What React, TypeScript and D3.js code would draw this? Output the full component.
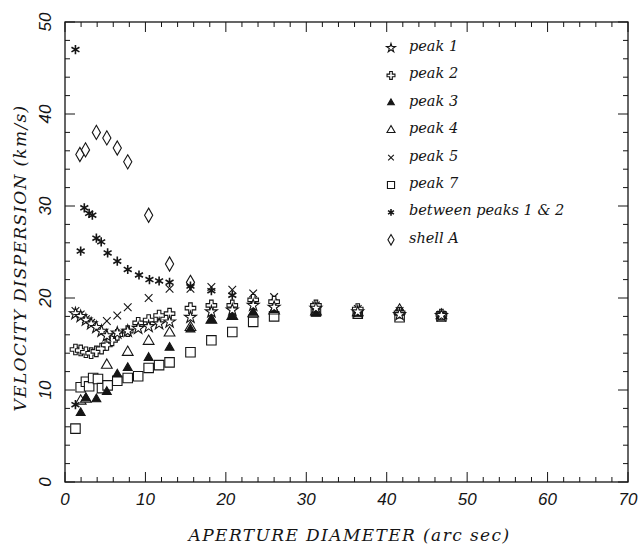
import React from 'react';
import * as d3 from 'd3';

// aperture diameter (arc sec), velocity dispersion (km/s)
const peak1: [number, number][] = [
  [1.3, 18.3], [1.95, 18.0], [2.6, 17.6], [3.25, 17.2], [3.9, 16.8], [4.55, 16.4], [5.2, 15.9],
  [6.5, 16.2], [7.8, 16.4], [9.1, 16.7], [10.4, 16.9], [11.7, 17.2], [13.0, 17.4], [15.6, 17.9],
  [18.2, 18.5], [20.8, 18.7], [23.4, 19.2], [26.0, 19.0], [31.2, 18.9], [36.4, 18.5], [41.6, 18.2], [46.8, 18.1],
];
const peak2: [number, number][] = [
  [1.3, 14.4], [1.95, 14.3], [2.6, 14.1], [3.25, 14.0], [3.9, 14.2], [4.55, 14.5], [5.2, 14.9],
  [5.85, 15.4], [6.5, 16.0], [7.8, 16.4], [9.1, 17.3], [10.4, 17.6], [11.7, 18.1], [13.0, 18.3],
  [15.6, 18.9], [18.2, 19.2], [20.8, 19.2], [23.4, 19.8], [26.0, 19.6], [31.2, 19.2], [36.4, 18.8], [41.6, 18.4], [46.8, 18.2],
];
const peak3: [number, number][] = [
  [1.95, 7.5], [2.6, 9.1], [3.9, 9.0], [5.2, 9.8], [6.5, 11.7], [7.8, 12.4], [10.4, 13.5], [13.0, 14.6],
  [15.6, 16.6], [18.2, 17.6], [20.8, 18.0], [23.4, 18.4], [26.0, 18.7], [31.2, 18.3], [36.4, 18.3], [41.6, 18.4], [46.8, 18.1],
];
const peak4: [number, number][] = [
  [1.95, 8.8], [2.6, 9.0], [5.2, 12.7], [7.8, 14.1], [10.4, 15.3], [13.0, 16.2], [15.6, 16.8],
  [18.2, 17.6], [20.8, 18.0], [23.4, 18.3], [26.0, 18.6], [31.2, 18.5], [36.4, 18.4], [41.6, 18.7], [46.8, 18.1],
];
const peak5: [number, number][] = [
  [1.3, 18.6], [1.95, 18.2], [2.6, 17.7], [3.25, 17.3], [5.2, 17.5], [6.5, 18.1], [7.8, 19.0], [10.4, 20.0],
  [13.0, 21.0], [15.6, 21.0], [18.2, 21.2], [20.8, 20.9], [23.4, 20.5], [26.0, 20.1], [31.2, 19.2], [36.4, 18.8], [41.6, 18.6], [46.8, 18.2],
];
const peak7: [number, number][] = [
  [1.3, 5.8], [1.95, 10.3], [2.6, 10.9], [3.0, 10.4], [3.5, 11.3], [4.1, 11.2], [4.6, 10.2], [5.3, 10.5],
  [6.5, 11.0], [7.8, 11.3], [9.1, 11.5], [10.4, 12.4], [11.7, 12.7], [13.0, 13.0], [15.6, 14.1],
  [18.2, 15.4], [20.8, 16.3], [23.4, 17.4], [26.0, 18.0], [31.2, 18.6], [36.4, 18.3], [41.6, 17.9], [46.8, 18.0],
];
const between12: [number, number][] = [
  [1.3, 47.0], [1.3, 8.4], [1.95, 25.1], [2.4, 29.8], [3.0, 29.2], [3.4, 29.0], [3.9, 26.5], [4.5, 26.1],
  [5.3, 24.9], [6.5, 24.0], [7.8, 23.1], [9.2, 22.5], [10.5, 22.0], [11.7, 21.85], [13.0, 21.7], [15.6, 21.3],
  [18.2, 20.8], [20.8, 20.3], [23.4, 19.6], [26.0, 19.3], [31.2, 19.0], [36.4, 18.6], [41.6, 18.5], [46.8, 18.1],
];
const shellA: [number, number][] = [
  [1.85, 35.6], [2.55, 36.1], [3.9, 38.0], [5.2, 37.4], [6.5, 36.3], [7.8, 34.8], [10.4, 29.0], [13.0, 23.7], [15.6, 21.7],
];

const legendLabels = ['peak 1', 'peak 2', 'peak 3', 'peak 4', 'peak 5', 'peak 7', 'between peaks 1 & 2', 'shell A'];
const xTickLabels = [0, 10, 20, 30, 40, 50, 60, 70];
const yTickLabels = [0, 10, 20, 30, 40, 50];

const W = 641;
const H = 547;
const margin = { top: 22, right: 13, bottom: 65, left: 65 };
const ink = '#151515';

type Kind = 'star' | 'plus' | 'tri' | 'otri' | 'times' | 'square' | 'aster' | 'diamond';

const symbolPath = (kind: Kind, k: number): string => {
  const sym = d3.symbol();
  switch (kind) {
    case 'star': return sym.type(d3.symbolStar).size(44 * k * k)() as string;
    case 'plus': return sym.type(d3.symbolCross).size(62 * k * k)() as string;
    case 'tri': return sym.type(d3.symbolTriangle).size(34 * k * k)() as string;
    case 'otri': return sym.type(d3.symbolTriangle).size(50 * k * k)() as string;
    case 'times': return sym.type(d3.symbolTimes).size(40 * k * k)() as string;
    case 'square': return sym.type(d3.symbolSquare).size(90 * k * k)() as string;
    case 'diamond': return sym.type(d3.symbolDiamond).size(58 * k * k)() as string;
    case 'aster': {
      const p = d3.path();
      const r = 4.6 * k;
      [90, 30, -30].forEach(a => {
        const t = (a * Math.PI) / 180;
        p.moveTo(-r * Math.cos(t), -r * Math.sin(t));
        p.lineTo(r * Math.cos(t), r * Math.sin(t));
      });
      return p.toString();
    }
  }
};

const seriesList: { data: [number, number][]; kind: Kind }[] = [
  { data: peak7, kind: 'square' },
  { data: peak4, kind: 'otri' },
  { data: peak3, kind: 'tri' },
  { data: shellA, kind: 'diamond' },
  { data: between12, kind: 'aster' },
  { data: peak5, kind: 'times' },
  { data: peak2, kind: 'plus' },
  { data: peak1, kind: 'star' },
];
const legendKinds: Kind[] = ['star', 'plus', 'tri', 'otri', 'times', 'square', 'aster', 'diamond'];

const Marker = ({ kind, x, y, k = 1 }: { kind: Kind; x: number; y: number; k?: number }) => {
  const filled = kind === 'tri';
  const open = kind === 'star' || kind === 'plus' || kind === 'otri' || kind === 'square' || kind === 'diamond';
  return (
    <path
      d={symbolPath(kind, k)}
      transform={`translate(${x},${y})`}
      fill={filled ? ink : open ? '#fff' : 'none'}
      stroke={ink}
      strokeWidth={kind === 'aster' ? 1.6 : 1.1}
    />
  );
};

export default function App() {
  const x = d3.scaleLinear().domain([0, 70]).range([margin.left, W - margin.right]);
  const y = d3.scaleLinear().domain([0, 50]).range([H - margin.bottom, margin.top]);
  const [x0, x1] = x.range();
  const [y0, y1] = y.range();

  const xMinor = x.ticks(35);
  const xMajor = x.ticks(7);
  const yMinor = y.ticks(25);
  const yMajor = y.ticks(5);

  const tickFont = { fontFamily: 'Liberation Sans, Arial, sans-serif', fontStyle: 'italic', fontSize: 17 } as const;
  const titleFont = { fontFamily: 'DejaVu Serif, serif', fontStyle: 'italic', fontSize: 17 } as const;

  return (
    <svg width={W} height={H} style={{ position: 'absolute', left: 0, top: 0, background: '#fff' }}>
      <rect x={0} y={0} width={W} height={H} fill="#fff" />
      {/* ticks on all four sides, minor every 2, major every 10 */}
      <g stroke={ink} strokeWidth={1}>
        {xMinor.map(v => {
          const len = xMajor.includes(v) ? 10 : 5;
          return (
            <g key={`xt${v}`}>
              <line x1={x(v)} x2={x(v)} y1={y0} y2={y0 - len} />
              <line x1={x(v)} x2={x(v)} y1={y1} y2={y1 + len} />
            </g>
          );
        })}
        {yMinor.map(v => {
          const len = yMajor.includes(v) ? 10 : 5;
          return (
            <g key={`yt${v}`}>
              <line x1={x0} x2={x0 + len} y1={y(v)} y2={y(v)} />
              <line x1={x1} x2={x1 - len} y1={y(v)} y2={y(v)} />
            </g>
          );
        })}
      </g>
      <rect x={x0} y={y1} width={x1 - x0} height={y0 - y1} fill="none" stroke={ink} strokeWidth={1.3} />

      {xTickLabels.map(v => (
        <text key={`xl${v}`} x={x(v)} y={y0 + 23} textAnchor="middle" fill={ink} {...tickFont}>{v}</text>
      ))}
      {yTickLabels.map(v => (
        <text key={`yl${v}`} x={0} y={0} transform={`translate(51,${y(v)}) rotate(-90)`} textAnchor="middle" fill={ink} {...tickFont}>{v}</text>
      ))}

      <text x={(x0 + x1) / 2 + 3} y={541} textAnchor="middle" fill={ink} letterSpacing={1.4} {...titleFont}>APERTURE DIAMETER (arc sec)</text>
      <text x={0} y={0} transform={`translate(26,${(y0 + y1) / 2 + 6}) rotate(-90)`} textAnchor="middle" fill={ink} letterSpacing={1.3} {...titleFont}>
        VELOCITY DISPERSION (km/s)
      </text>

      {seriesList.map((s, i) => (
        <g key={`s${i}`}>
          {s.data.map((d, j) => <Marker key={j} kind={s.kind} x={x(d[0])} y={y(d[1])} />)}
        </g>
      ))}

      {legendLabels.map((label, i) => {
        const ly = 46 + i * 27.4;
        return (
          <g key={label}>
            <Marker kind={legendKinds[i]} x={391} y={ly + 2} k={0.75} />
            <text x={409} y={ly + 5} fill={ink} fontFamily="DejaVu Serif, serif" fontStyle="italic" fontSize={14.5}>{label}</text>
          </g>
        );
      })}
    </svg>
  );
}
